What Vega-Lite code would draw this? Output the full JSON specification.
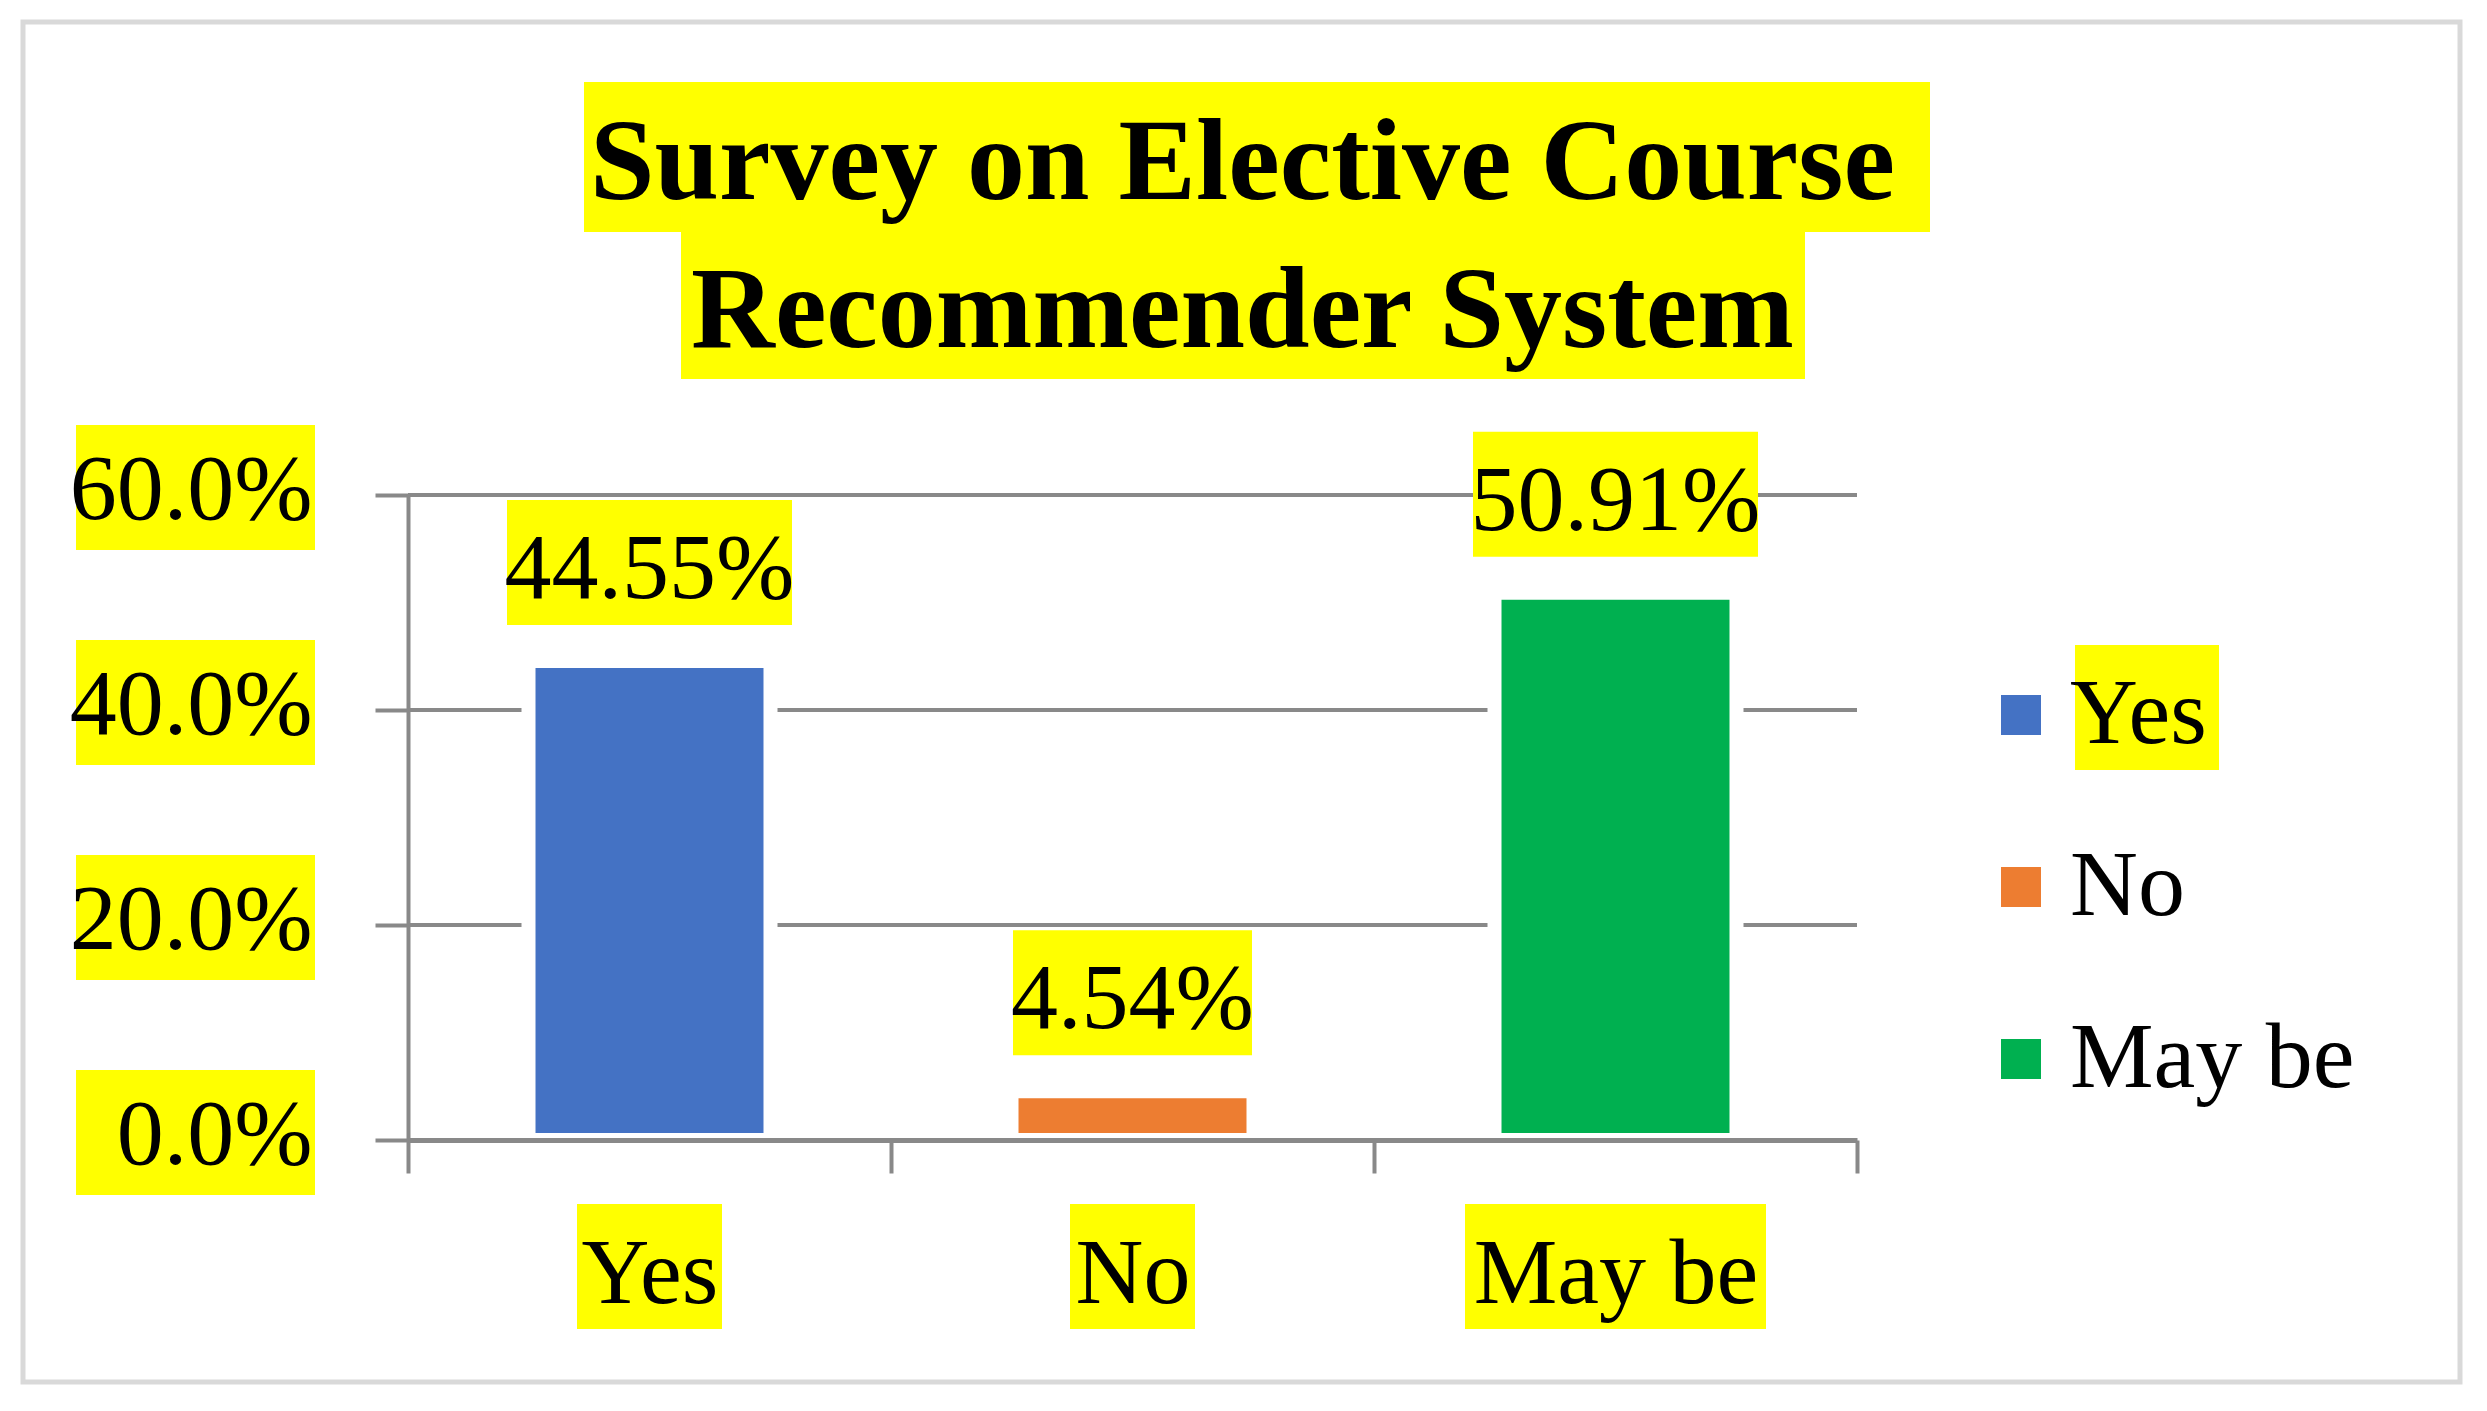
{
  "$schema": "https://vega.github.io/schema/vega-lite/v6.json",
  "autosize": {"type": "none"},
  "width": 1449,
  "height": 645,
  "padding": {"left": 408, "top": 495, "right": 630, "bottom": 271},
  "background": "white",
  "config": {"view": {"stroke": null}, "font": "Liberation Serif"},
  "title": {
    "text": ["Survey on Elective Course ", "Recommender System"],
    "font": "Liberation Serif",
    "fontSize": 116,
    "fontWeight": "bold",
    "color": "black",
    "anchor": "middle",
    "frame": "group",
    "lineHeight": 148,
    "dx": 110,
    "offset": -351
  },
  "datasets": {
    "survey": [
      {"answer": "Yes", "share": 0.4455},
      {"answer": "No", "share": 0.0454},
      {"answer": "May be", "share": 0.5091}
    ],
    "ticks": [{"tick": 0}, {"tick": 0.2}, {"tick": 0.4}, {"tick": 0.6}]
  },
  "data": {"name": "survey"},
  "layer": [
    {
      "data": {"values": [{}]},
      "mark": {"type": "rect", "x": -385, "y": -473, "x2": 2052, "y2": 887, "fill": null, "fillOpacity": 0, "stroke": "#d9d9d9", "strokeWidth": 5},
      "encoding": {}
    },
    {
      "data": {"values": [{}]},
      "mark": {"type": "rect", "x": 176, "y": -413, "x2": 1522, "y2": -263, "color": "#ffff00"},
      "encoding": {}
    },
    {
      "data": {"values": [{}]},
      "mark": {"type": "rect", "x": 273, "y": -264, "x2": 1397, "y2": -116, "color": "#ffff00"},
      "encoding": {}
    },
    {
      "data": {"name": "ticks"},
      "mark": {"type": "rect", "color": "#ffff00", "yOffset": -70, "y2Offset": 55},
      "encoding": {
        "y": {"field": "tick", "type": "quantitative", "scale": {"domain": [0, 0.6], "nice": false}},
        "y2": {"field": "tick"},
        "x": {"condition": {"test": "datum.tick == 0", "value": -286}, "value": -332},
        "x2": {"value": -93}
      }
    },
    {
      "mark": {"type": "bar", "color": "#ffff00"},
      "encoding": {
        "x": {"field": "answer", "type": "nominal", "sort": ["Yes", "No", "May be"]},
        "y": {"value": 709},
        "y2": {"value": 834},
        "size": {"condition": [{"test": "datum.answer == 'May be'", "value": 301}, {"test": "datum.answer == 'No'", "value": 125}], "value": 145}
      }
    },
    {
      "mark": {"type": "rect", "color": "#ffff00"},
      "encoding": {
        "x": {"value": 1667},
        "x2": {"condition": [{"test": "datum.answer == 'May be'", "value": 1968}, {"test": "datum.answer == 'No'", "value": 1794}], "value": 1811},
        "y": {"condition": [{"test": "datum.answer == 'May be'", "value": 494}, {"test": "datum.answer == 'No'", "value": 322}], "value": 150},
        "y2": {"condition": [{"test": "datum.answer == 'May be'", "value": 618}, {"test": "datum.answer == 'No'", "value": 446}], "value": 275}
      }
    },
    {
      "data": {"name": "ticks"},
      "mark": {"type": "rule", "color": "#898989", "strokeWidth": 4},
      "encoding": {
        "y": {"field": "tick", "type": "quantitative"}
      }
    },
    {
      "mark": {"type": "bar", "stroke": "white", "strokeWidth": 14, "width": 242},
      "encoding": {
        "x": {
          "field": "answer", "type": "nominal", "sort": ["Yes", "No", "May be"],
          "scale": {"paddingInner": 0, "paddingOuter": 0},
          "axis": {
            "title": null, "labelAngle": 0, "labelAlign": "center", "labelFontSize": 94, "labelFont": "Liberation Serif", "labelColor": "black",
            "labelBaseline": "alphabetic", "labelPadding": 129, "labelLimit": 0,
            "ticks": true, "tickBand": "extent", "tickSize": 33, "tickColor": "#898989", "tickWidth": 4,
            "domainColor": "#898989", "domainWidth": 5, "grid": false, "zindex": 1
          }
        },
        "y": {
          "field": "share", "type": "quantitative",
          "scale": {"domain": [0, 0.6], "nice": false},
          "axis": {
            "title": null, "format": ".1%", "values": [0, 0.2, 0.4, 0.6],
            "labelFontSize": 94, "labelFont": "Liberation Serif", "labelColor": "black", "labelPadding": 63, "labelLimit": 0,
            "labelBaseline": "middle", "labelOffset": -5,
            "tickSize": 33, "tickColor": "#898989", "tickWidth": 4,
            "domainColor": "#898989", "domainWidth": 4, "grid": false, "zindex": 1
          }
        },
        "color": {
          "field": "answer", "type": "nominal",
          "scale": {"domain": ["Yes", "No", "May be"], "range": ["#4472c4", "#ed7d31", "#00b050"]},
          "legend": {
            "title": null, "orient": "none", "legendX": 1566, "legendY": 173,
            "symbolType": "square", "symbolSize": 1600, "symbolStrokeWidth": 0, "symbolOpacity": 1,
            "labelFontSize": 94, "labelFont": "Liberation Serif", "labelColor": "black", "labelLimit": 0,
            "labelOffset": 2, "rowPadding": 78, "padding": 0
          }
        }
      }
    },
    {
      "mark": {"type": "bar", "color": "#ffff00", "yOffset": -161, "y2Offset": -36},
      "encoding": {
        "x": {"field": "answer", "type": "nominal", "sort": ["Yes", "No", "May be"]},
        "y": {"field": "share", "type": "quantitative"},
        "y2": {"field": "share"},
        "size": {"condition": {"test": "datum.answer == 'No'", "value": 239}, "value": 285}
      }
    },
    {
      "mark": {"type": "text", "dy": -63, "baseline": "alphabetic", "fontSize": 94, "font": "Liberation Serif", "color": "black"},
      "encoding": {
        "x": {"field": "answer", "type": "nominal", "sort": ["Yes", "No", "May be"]},
        "y": {"field": "share", "type": "quantitative"},
        "text": {"field": "share", "type": "quantitative", "format": ".2%"}
      }
    }
  ]
}
